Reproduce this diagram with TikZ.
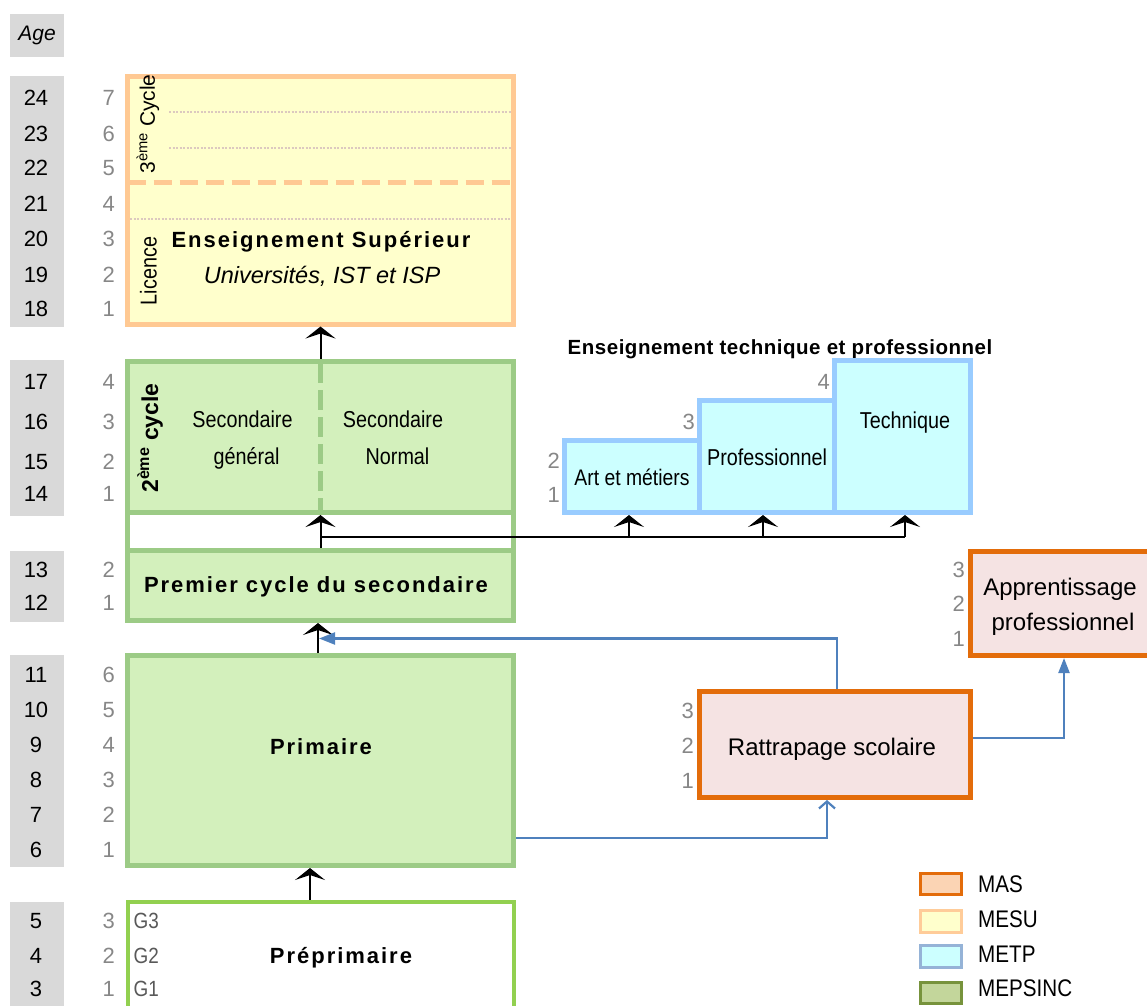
\documentclass[tikz,border=0pt]{standalone}
\usepackage{fontspec}
\setmainfont{Liberation Sans}
\newfontfamily\nar[FakeStretch=0.86]{Liberation Sans}
\newfontfamily\bsp[LetterSpace=9]{Liberation Sans}
\newfontfamily\bsq[LetterSpace=2.5]{Liberation Sans}
\usetikzlibrary{arrows.meta}
\definecolor{agegray}{HTML}{D9D9D9}
\definecolor{numgray}{HTML}{878787}
\definecolor{glab}{HTML}{595959}
\definecolor{esfill}{HTML}{FFFFCC}
\definecolor{esdraw}{HTML}{FFC993}
\definecolor{esdot}{HTML}{DCC9BF}
\definecolor{grfill}{HTML}{D3F0BC}
\definecolor{grdraw}{HTML}{9CCB86}
\definecolor{prepdraw}{HTML}{92D050}
\definecolor{etpfill}{HTML}{CCFFFF}
\definecolor{etpdraw}{HTML}{99CCFF}
\definecolor{orgdraw}{HTML}{E36C0A}
\definecolor{pinkfill}{HTML}{F5E3E3}
\definecolor{bline}{HTML}{4F81BD}
\definecolor{lgmasfill}{HTML}{FBD4B4}
\definecolor{lgmesudraw}{HTML}{FFCC99}
\definecolor{lgmetpdraw}{HTML}{95B3D7}
\definecolor{lgmepfill}{HTML}{C3D69B}
\definecolor{lgmepdraw}{HTML}{77933C}
\newcommand\fsz[1]{\fontsize{#1}{#1}\selectfont}
\begin{document}
\begin{tikzpicture}[x=1pt,y=-1pt,
  every node/.style={inner sep=0pt},
  box/.style={rectangle, line width=5pt},
  agebox/.style={fill=agegray, draw=none},
  anum/.style={font=\fsz{22}, anchor=base},
  gnum/.style={font=\fsz{22}, text=numgray, anchor=base east},
  blk/.style={line width=2pt, -{Stealth[length=12pt,width=30pt,inset=5pt]}},
  bconn/.style={line width=2.2pt, draw=bline},
  esdots/.style={esdot, line width=2pt, dash pattern=on 2pt off 1.5pt},
  lgbox/.style={rectangle, line width=3pt, minimum width=41pt, minimum height=21.5pt},
  lglab/.style={font=\nar\fsz{24}, anchor=base west}
]
\useasboundingbox (0,0) rectangle (1147,1005);
\clip (0,0) rectangle (1147,1005);

% ---------- Age column ----------
\node[agebox, minimum width=54pt, minimum height=43pt] (agehead) at (37,35.5) {};
\node[font=\itshape\fsz{21}, anchor=base] (agetxt) at (37,40) {Age};
\node[agebox, minimum width=53.5pt, minimum height=251pt] (ag1) at (36.75,201) {};
\node[agebox, minimum width=53.5pt, minimum height=156pt] (ag2) at (36.75,438) {};
\node[agebox, minimum width=53.5pt, minimum height=71pt] (ag3) at (36.75,586.5) {};
\node[agebox, minimum width=53.5pt, minimum height=212pt] (ag4) at (36.75,761) {};
\node[agebox, minimum width=53.5pt, minimum height=110pt] (ag5) at (36.75,957) {};

\foreach \v/\y in {24/105,23/141.7,22/175,21/211.7,20/246.7,19/282.7,18/316,
  17/389.3,16/429.3,15/469,14/501.7,13/577.7,12/610.7,
  11/682,10/717.5,9/752.5,8/787.5,7/822.5,6/857.5,5/928.3,4/963.3,3/996.7}
  \node[anum] (age\v) at (36,\y) {\v};

% grade numbers
\foreach \g/\y in {7/105,6/141.7,5/175,4/211.7,3/246.7,2/282.7,1/316}
  \node[gnum] (ges\g) at (115,\y) {\g};
\foreach \g/\y in {4/389.3,3/429.3,2/469,1/501.7}
  \node[gnum] (gsc\g) at (115,\y) {\g};
\foreach \g/\y in {2/577.7,1/610.7}
  \node[gnum] (gpc\g) at (115,\y) {\g};
\foreach \g/\y in {6/682,5/717.5,4/752.5,3/787.5,2/822.5,1/857.5}
  \node[gnum] (gpr\g) at (115,\y) {\g};
\foreach \g/\y in {3/928.3,2/963.3,1/996.7}
  \node[gnum] (gpp\g) at (115,\y) {\g};

% ---------- Enseignement superieur ----------
\node[box, draw=esdraw, fill=esfill, minimum width=386pt, minimum height=247.5pt] (es) at (320.5,200.25) {};
\draw[esdots] (169,112.3) -- (511,112.3);
\draw[esdots] (169,148.3) -- (511,148.3);
\draw[esdots] (130,219.3) -- (511,219.3);
\draw[esdraw, line width=5pt, dash pattern=on 18pt off 8pt] (127.5,182.5) -- (513.5,182.5);
\node[rotate=90, font=\fsz{21}] (cyc3) at (148,124) {3\textsuperscript{ème} Cycle};
\node[rotate=90, font=\nar\fsz{23}] (lic) at (148.5,271) {Licence};
\node[font=\bsp\bfseries\fsz{22}, anchor=base] (estitle) at (321,247) {Enseignement Supérieur};
\node[font=\itshape\fsz{23.5}, anchor=base] (essub) at (322,283) {Universités, IST et ISP};

% ---------- Secondaire ----------
\draw[grdraw, line width=5pt] (127.5,512.5) -- (127.5,550.5) (513.5,512.5) -- (513.5,550.5);
\node[box, draw=grdraw, fill=grfill, minimum width=386pt, minimum height=151.5pt] (sec2) at (320.5,436.75) {};
\draw[grdraw, line width=5pt, dash pattern=on 20pt off 7pt] (320,363) -- (320,510);
\node[rotate=90, font=\bfseries\fsz{23}] (cyc2) at (150,438) {2\textsuperscript{ème} cycle};
\node[font=\nar\fsz{23}, anchor=base] (sg1) at (242.5,427.3) {Secondaire};
\node[font=\nar\fsz{23}, anchor=base] (sg2) at (246.5,464) {général};
\node[font=\nar\fsz{23}, anchor=base] (sn1) at (393,427.3) {Secondaire};
\node[font=\nar\fsz{23}, anchor=base] (sn2) at (397.5,464) {Normal};

\node[box, draw=grdraw, fill=grfill, minimum width=386pt, minimum height=70pt] (prem) at (320.5,585.5) {};
\node[font=\bsp\bfseries\fsz{22}, anchor=base] (premtxt) at (316,592.7) {Premier cycle du secondaire};

% ---------- Primaire / Preprimaire ----------
\node[box, draw=grdraw, fill=grfill, minimum width=386pt, minimum height=210pt] (prim) at (320.5,760.5) {};
\node[font=\bsp\bfseries\fsz{22}, anchor=base] (primtxt) at (321,754) {Primaire};

\node[box, line width=4pt, draw=prepdraw, fill=white, minimum width=386pt, minimum height=110pt] (prep) at (320.5,957) {};
\node[font=\bsp\bfseries\fsz{22}, anchor=base] (preptxt) at (341,963.3) {Préprimaire};
\foreach \g/\y in {3/928.3,2/963.3,1/996.7}
  \node[font=\nar\fsz{22}, text=glab, anchor=base west] (gg\g) at (133.5,\y) {G\g};

% ---------- Enseignement technique ----------
\node[font=\bsq\bfseries\fsz{20.5}, anchor=base] (etptitle) at (780,354) {Enseignement technique et professionnel};
\node[box, draw=etpdraw, fill=etpfill, minimum width=135pt, minimum height=72pt] (art) at (632,476.5) {};
\node[box, draw=etpdraw, fill=etpfill, minimum width=135pt, minimum height=112pt] (prof) at (767,456.5) {};
\node[box, draw=etpdraw, fill=etpfill, minimum width=136pt, minimum height=152pt] (tech) at (902.5,436.5) {};
\node[font=\nar\fsz{22.5}, anchor=base] (arttxt) at (632,485) {Art et métiers};
\node[font=\nar\fsz{23}, anchor=base] (proftxt) at (767,465) {Professionnel};
\node[font=\nar\fsz{23}, anchor=base] (techtxt) at (905,428) {Technique};
\node[gnum] (ge2) at (560,468) {2};
\node[gnum] (ge1) at (560,502) {1};
\node[gnum] (ge3) at (695,429) {3};
\node[gnum] (ge4) at (830,389) {4};

% ---------- Rattrapage / Apprentissage ----------
\node[box, draw=orgdraw, fill=pinkfill, minimum width=271pt, minimum height=106pt] (ratt) at (835,744.5) {};
\node[font=\fsz{24}, anchor=base] (ratttxt) at (832,755) {Rattrapage scolaire};
\node[gnum] (gr3) at (694,718) {3};
\node[gnum] (gr2) at (694,753) {2};
\node[gnum] (gr1) at (694,788) {1};

\node[box, draw=orgdraw, fill=pinkfill, minimum width=189.5pt, minimum height=104pt] (appr) at (1065.25,603.5) {};
\node[font=\fsz{24}, anchor=base] (apptxt1) at (1060,595) {Apprentissage};
\node[font=\fsz{24}, anchor=base] (apptxt2) at (1063,630) {professionnel};
\node[gnum] (ga3) at (965,577) {3};
\node[gnum] (ga2) at (965,611) {2};
\node[gnum] (ga1) at (965,646) {1};

% ---------- Black connectors ----------
\draw[blk] (sec2.north) -- (es.south);
\draw[blk] (prem.north) -- (sec2.south);
\draw[blk] ([xshift=-2.5pt]prim.north) -- ([xshift=-2.5pt]prem.south);
\draw[blk] ([xshift=-10.5pt]prep.north) -- ([xshift=-10.5pt]prim.south);
\coordinate (j0) at (320.5,537);
\coordinate (ja) at (629,537);
\coordinate (jb) at (763,537);
\coordinate (jc) at (905,537);
\draw[line width=2pt] (j0) -- (jc);
\draw[blk] (ja) -- (ja |- art.south);
\draw[blk] (jb) -- (jb |- prof.south);
\draw[blk] (jc) -- (jc |- tech.south);

% ---------- Blue connectors ----------
\draw[bconn, -{Straight Barb[length=7pt,width=16pt,line width=2.2pt]}]
  ([yshift=-77.5pt]prim.east) -| ([xshift=-8pt]ratt.south);
\coordinate (bt) at (319,638.5);
\draw[bconn, -{Triangle[length=16pt,width=12pt]}]
  ([xshift=2pt]ratt.north) |- (bt);
\draw[bconn, -{Triangle[length=15pt,width=11pt]}]
  ([yshift=6.5pt]ratt.east) -| ([xshift=-1.25pt]appr.south);

% ---------- Legend ----------
\node[lgbox, draw=orgdraw, fill=lgmasfill] (lmas) at (941,883.75) {};
\node[lgbox, draw=lgmesudraw, fill=esfill] (lmesu) at (941,921.5) {};
\node[lgbox, draw=lgmetpdraw, fill=etpfill] (lmetp) at (941,956.5) {};
\node[lgbox, draw=lgmepdraw, fill=lgmepfill] (lmep) at (941,992.75) {};
\node[lglab] (tmas) at (978,892.3) {MAS};
\node[lglab] (tmesu) at (978,927.7) {MESU};
\node[lglab] (tmetp) at (978,962.7) {METP};
\node[lglab] (tmep) at (978,996.7) {MEPSINC};
\end{tikzpicture}
\end{document}
